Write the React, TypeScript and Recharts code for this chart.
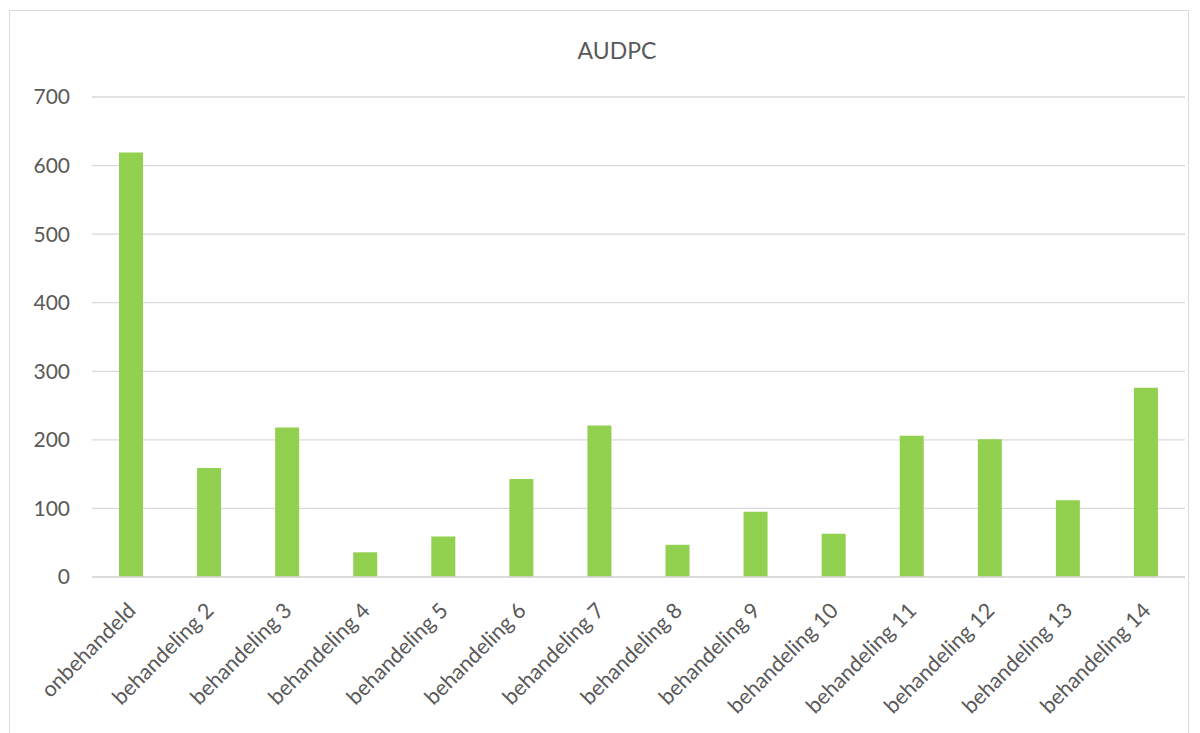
import React from "react";
import { BarChart, Bar, XAxis, YAxis, CartesianGrid, Customized } from "recharts";

const categories = [
  "onbehandeld",
  "behandeling 2",
  "behandeling 3",
  "behandeling 4",
  "behandeling 5",
  "behandeling 6",
  "behandeling 7",
  "behandeling 8",
  "behandeling 9",
  "behandeling 10",
  "behandeling 11",
  "behandeling 12",
  "behandeling 13",
  "behandeling 14",
];
const audpc = [619, 159, 218, 36, 59, 143, 221, 47, 95, 63, 206, 201, 112, 276];
const yTicks = [0, 100, 200, 300, 400, 500, 600, 700];
const title = "AUDPC";

const data = categories.map((c, i) => ({ name: c, value: audpc[i] }));

const FONT = "Lato, 'Open Sans', sans-serif";
const TEXT = "#595959";

const CatTick = (props: any) => {
  const { x, y, payload } = props;
  return (
    <g transform={`translate(${x + 6},${y + 35})`}>
      <text
        transform="rotate(-45)"
        textAnchor="end"
        fill={TEXT}
        fontSize={21.5}
        fontFamily={FONT}
      >
        {payload.value}
      </text>
    </g>
  );
};

const Title = () => (
  <text x={617} y={59} textAnchor="middle" fill={TEXT} fontSize={23} fontFamily={FONT}>
    {title}
  </text>
);

export default function App() {
  return (
    <div style={{ position: "absolute", left: 0, top: 0, width: 1200, height: 733, background: "#fff", overflow: "hidden" }}>
      <div
        style={{
          position: "absolute",
          left: 9,
          top: 10,
          width: 1180,
          height: 740,
          border: "1px solid #d9d9d9",
          boxSizing: "border-box",
        }}
      />
      <div style={{ position: "absolute", left: 0, top: 0 }}>
        <BarChart
          width={1200}
          height={733}
          data={data}
          margin={{ top: 97, right: 15, bottom: 0, left: 0 }}
          barCategoryGap="34.6%"
        >
          <CartesianGrid vertical={false} stroke="#d9d9d9" strokeWidth={1.3} />
          <XAxis
            dataKey="name"
            interval={0}
            height={156}
            tickLine={false}
            tickSize={0}
            tickMargin={0}
            axisLine={{ stroke: "#d9d9d9", strokeWidth: 1.3 }}
            tick={<CatTick />}
          />
          <YAxis
            width={92}
            domain={[0, 700]}
            ticks={yTicks}
            interval={0}
            tickLine={false}
            axisLine={false}
            tickMargin={16}
            tick={{ fill: TEXT, fontSize: 21, fontFamily: FONT }}
          />
          <Bar dataKey="value" fill="#92d050" isAnimationActive={false} />
          <Customized component={Title} />
        </BarChart>
      </div>
    </div>
  );
}
